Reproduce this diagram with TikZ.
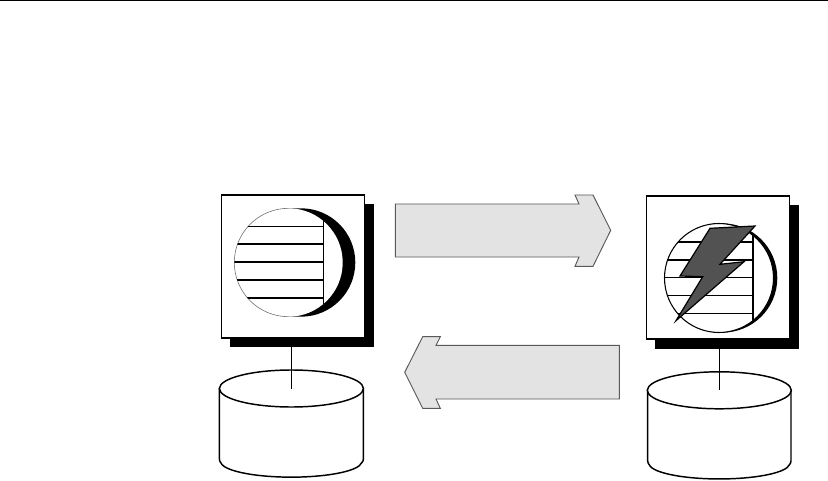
\documentclass[tikz,border=0pt]{standalone}
\usetikzlibrary{shapes.geometric}
\def\pxu{0.75pt}
\tikzset{
  x=0.75pt,y=-0.75pt,
  serverbox/.style={draw=black,fill=white,line width=1.1pt,rectangle,inner sep=0pt,outer sep=0pt,minimum width=143.2*\pxu,minimum height=143*\pxu},
  dbtop/.style={draw=black,fill=white,line width=1.1pt,ellipse,inner sep=0pt,outer sep=0pt,minimum width=144*\pxu,minimum height=37*\pxu},
  dbbody/.style={draw=black,fill=white,line width=1.1pt},
  link/.style={draw=black,line width=0.8pt},
  flow/.style={draw=black!65,fill=black!11,line width=0.7pt,line join=miter},
  rule/.style={draw=black,line width=0.75pt},
  bar/.style={draw=black,line width=0.8pt},
  thickbar/.style={draw=black,line width=1.3pt}
}
\begin{document}
\begin{tikzpicture}
\useasboundingbox (0,0) rectangle (828,481);
\fill[white] (0,0) rectangle (828,481);
\draw[rule] (0,0.5) -- (828,0.5);

% flow arrows
\draw[flow] (395.3,204) -- (579,204) -- (575,195) -- (593,195) -- (610.7,230.3) -- (593,266.3) -- (575,266.3) -- (579,257) -- (395.3,257) -- cycle;
\draw[flow] (619.3,345.3) -- (436,345.3) -- (440.3,336.7) -- (422.7,336.7) -- (404.7,372.3) -- (422.7,408.3) -- (440.3,408.3) -- (436,399) -- (619.3,399) -- cycle;

% left database
\draw[dbbody] (219.4,388.5) -- (219.4,459) .. controls (219.4,460.5) and (220,462) .. (221,463) arc[start angle=175,end angle=5,x radius=70.5,y radius=15.5] .. controls (362.8,462) and (363.4,460.5) .. (363.4,459) -- (363.4,388.5) -- cycle;
\node[dbtop] (dbA) at (291.4,388.5) {};
% right database
\draw[dbbody] (647.7,390.3) -- (647.7,460.8) .. controls (647.7,462.3) and (648.3,463.8) .. (649.3,464.8) arc[start angle=175,end angle=5,x radius=70.3,y radius=15.5] .. controls (790.4,463.8) and (791,462.3) .. (791,460.8) -- (791,390.3) -- cycle;
\node[dbtop] (dbB) at (719.3,390.3) {};

% left server
\node[serverbox] (boxA) at (292.9,266.5) {};
\draw[link] (boxA.south -| dbA.center) -- (dbA.center);
\fill[black] (230,204) rectangle (374,346.7);
\node[serverbox] at (292.9,266.5) {};
\fill[black] (288.5,208.3) -- (301,208.3) arc[start angle=-90,end angle=90,x radius=54.3,y radius=54.2] -- (288.5,316.7) -- cycle;
\fill[white] (288.5,262.5) circle[radius=54.2];
\draw[black!60,line width=0.4pt] (288.5,208.3) arc[start angle=-90,end angle=-270,radius=54.2];
\begin{scope}
\clip (288.5,262.5) circle[radius=54.2];
\draw[bar] (230,226.3) -- (323.3,226.3);
\draw[thickbar] (230,244) -- (323.3,244);
\draw[thickbar] (230,261.7) -- (323.3,261.7);
\draw[thickbar] (230,280) -- (323.3,280);
\draw[thickbar] (230,298) -- (323.3,298);
\draw[bar] (323.3,200) -- (323.3,325);
\end{scope}

% right server
\node[serverbox] (boxB) at (717.9,267.6) {};
\draw[link] (boxB.south -| dbB.center) -- (dbB.center);
\fill[black] (655,205) rectangle (799,348.7);
\node[serverbox] at (717.9,267.6) {};
\fill[black] (719,223.5) -- (722.8,223.5) arc[start angle=-90,end angle=90,x radius=54.5,y radius=54.5] -- (719,332.5) -- cycle;
\draw[black,fill=white,line width=0.8pt] (719,278) circle[radius=54.5];
\begin{scope}
\clip (719,278) circle[radius=54.5];
\draw[thickbar] (660,241.7) -- (753.3,241.7);
\draw[thickbar] (660,259.7) -- (753.3,259.7);
\draw[bar] (660,277.7) -- (753.3,277.7);
\draw[bar] (660,295.3) -- (753.3,295.3);
\draw[bar] (660,313.3) -- (753.3,313.3);
\draw[thickbar] (753.3,215) -- (753.3,340);
\end{scope}
\draw[draw=black,fill=black!68,line width=0.9pt,line join=miter] (710,228.3) -- (755,226) -- (720,264.3) -- (744,261.7) -- (676,320.7) -- (702.7,276.7) -- (680,276) -- cycle;
\end{tikzpicture}
\end{document}
